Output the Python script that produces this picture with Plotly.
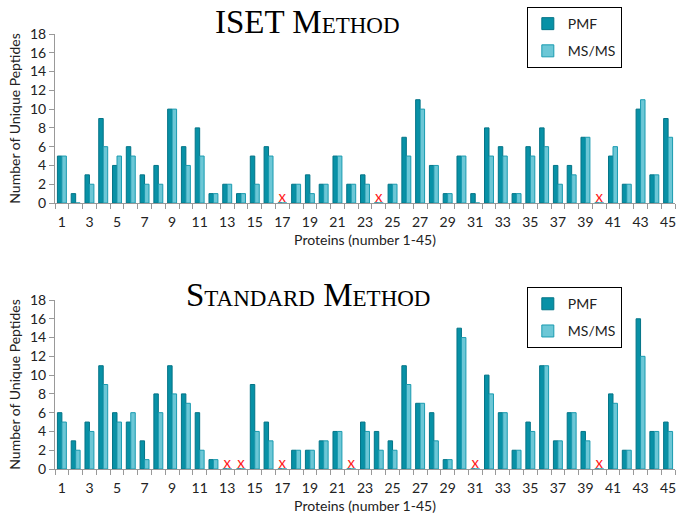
import plotly.graph_objects as go
from plotly.subplots import make_subplots

# proteins 1-45
proteins = list(range(1, 46))

# ISET method: unique peptides per protein
iset_pmf = [5, 1, 3, 9, 4, 6, 3, 4, 10, 6, 8, 1, 2, 1, 5, 6, 0, 2, 3, 2, 5, 2, 3, 0, 2,
            7, 11, 4, 1, 5, 1, 8, 6, 1, 6, 8, 4, 4, 7, 0, 5, 2, 10, 3, 9]
iset_msms = [5, 0, 2, 6, 5, 5, 2, 2, 10, 4, 5, 1, 2, 1, 2, 5, 0, 2, 1, 2, 5, 2, 2, 0, 2,
             5, 10, 4, 1, 5, 0, 5, 5, 1, 5, 6, 2, 3, 7, 0, 6, 2, 11, 3, 7]
iset_missing = [17, 24, 40]

# standard method
std_pmf = [6, 3, 5, 11, 6, 5, 3, 8, 11, 8, 6, 1, 0, 0, 9, 5, 0, 2, 2, 3, 4, 0, 5, 4, 3,
           11, 7, 6, 1, 15, 0, 10, 6, 2, 5, 11, 3, 6, 4, 0, 8, 2, 16, 4, 5]
std_msms = [5, 2, 4, 9, 5, 6, 1, 6, 8, 7, 2, 1, 0, 0, 4, 3, 0, 2, 2, 3, 4, 0, 4, 2, 2,
            9, 7, 3, 1, 14, 0, 8, 6, 2, 4, 11, 3, 6, 3, 0, 7, 2, 12, 4, 4]
std_missing = [13, 14, 17, 22, 31, 40]

odd_labels = [p for p in proteins if p % 2 == 1]
boundaries = [p - 0.5 for p in proteins] + [proteins[-1] + 0.5]

PMF_COLOR = "#0891a6"
MSMS_COLOR = "#6cc7d6"
SANS = "Lato, 'Open Sans', sans-serif"

fig = make_subplots(rows=2, cols=1, vertical_spacing=0.2)

panels = [(iset_pmf, iset_msms, iset_missing, "legend"),
          (std_pmf, std_msms, std_missing, "legend2")]
for i, (pmf, msms, missing, leg) in enumerate(panels, start=1):
    fig.add_trace(go.Bar(x=proteins, y=pmf, name="PMF", legend=leg, legendgroup="pmf",
                         marker=dict(color=PMF_COLOR, line=dict(color="#047487", width=1))),
                  row=i, col=1)
    fig.add_trace(go.Bar(x=proteins, y=msms, name="MS/MS", legend=leg, legendgroup="msms",
                         marker=dict(color=MSMS_COLOR, line=dict(color="#1a9bb0", width=1))),
                  row=i, col=1)
    fig.add_trace(go.Scatter(x=missing, y=[0.55] * len(missing), mode="text",
                             text=["x"] * len(missing), showlegend=False,
                             textfont=dict(color="#ff1a1a", size=15, family=SANS)),
                  row=i, col=1)

axis_font = dict(family=SANS, size=14, color="#222")
fig.update_xaxes(range=[0.5, 45.5], tickmode="array", tickvals=odd_labels, ticks="",
                 minor=dict(tickmode="array", tickvals=boundaries, ticks="outside",
                            ticklen=5, tickcolor="#999"),
                 showline=True, linecolor="#999", showgrid=False, zeroline=False,
                 tickfont=axis_font, ticklabeloverflow="allow", ticklabelstandoff=6,
                 title=dict(text="Proteins (number 1-45)", font=axis_font, standoff=6))
fig.update_yaxes(range=[0, 18], dtick=2, ticks="outside", ticklen=5, tickcolor="#999",
                 showline=True, linecolor="#999", showgrid=False, zeroline=False,
                 tickfont=axis_font,
                 title=dict(text="Number of Unique Peptides", font=axis_font, standoff=6))

fig.layout.yaxis.domain = [0.6115, 1.0]
fig.layout.yaxis2.domain = [0.0, 0.3885]

title_font = dict(family="'Liberation Serif', 'DejaVu Serif', serif", size=33,
                  color="black", variant="small-caps")
fig.add_annotation(text="ISET Method", xref="paper", yref="paper", x=0.408, y=1.028,
                   yanchor="middle", showarrow=False, font=title_font)
fig.add_annotation(text="Standard Method", xref="paper", yref="paper", x=0.408, y=0.40,
                   yanchor="middle", showarrow=False, font=title_font)

legend_style = dict(bordercolor="black", borderwidth=1, bgcolor="white",
                    font=dict(family=SANS, size=14, color="#222"),
                    xanchor="left", yanchor="top", x=0.761, itemwidth=30,
                    tracegroupgap=6)
fig.update_layout(
    width=676, height=516,
    margin=dict(l=55, r=1, t=34, b=47),
    plot_bgcolor="white", paper_bgcolor="white",
    barmode="group", bargap=0.35, bargroupgap=0,
    legend=dict(legend_style, y=1.062),
    legend2=dict(legend_style, y=0.418),
)

fig.write_html("out.html", config={"displayModeBar": False},
               post_script="document.body.style.margin='0';")
